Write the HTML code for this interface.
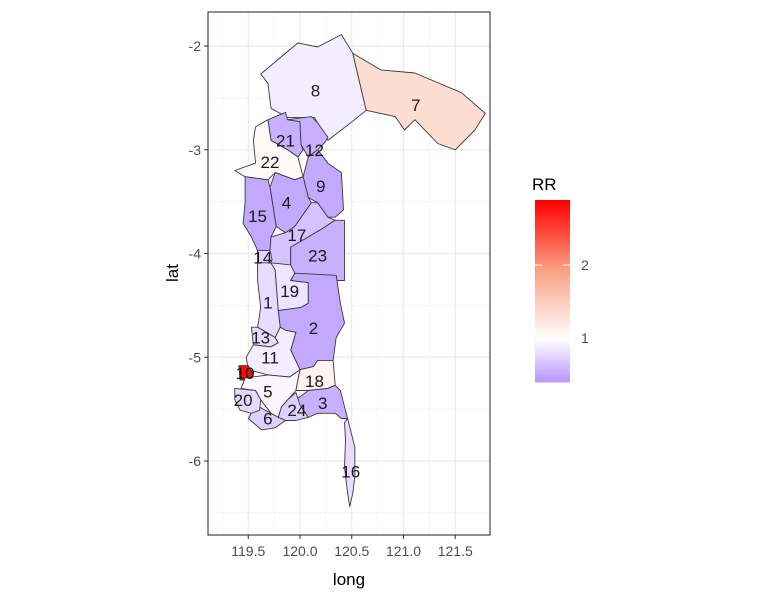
<!DOCTYPE html>
<html><head><meta charset="utf-8"><style>
body{margin:0;background:#fff;}
svg{display:block;font-family:"Liberation Sans",Arial,sans-serif;}
</style></head><body>
<svg id="chart" width="758" height="606" viewBox="0 0 758 606"></svg>
<script>
const regionIds=[8,7,21,12,22,9,4,15,17,23,14,1,19,2,13,11,10,5,18,3,24,6,20,16];
const rrValues={1:0.8,2:0.5,3:0.55,4:0.5,5:0.95,6:0.72,7:1.35,8:0.9,9:0.5,10:2.85,11:0.9,12:0.55,13:0.8,14:0.75,15:0.5,16:0.8,17:0.65,18:1.12,19:0.85,20:0.78,21:0.55,22:1.06,23:0.55,24:0.72};
const polygons={
8:[[119.62,-2.27],[119.98,-1.97],[120.17,-2.01],[120.40,-1.89],[120.51,-2.07],[120.64,-2.62],[120.49,-2.74],[120.27,-2.91],[120.14,-2.69],[119.88,-2.69],[119.72,-2.60],[119.69,-2.36]],
7:[[120.51,-2.07],[120.78,-2.23],[121.11,-2.26],[121.56,-2.45],[121.79,-2.65],[121.69,-2.81],[121.50,-3.00],[121.33,-2.94],[121.11,-2.71],[121.01,-2.81],[120.92,-2.68],[120.64,-2.62]],
21:[[119.69,-2.71],[119.86,-2.64],[119.88,-2.71],[120.00,-2.73],[120.01,-2.95],[120.03,-3.00],[119.98,-3.07],[119.88,-3.00],[119.72,-2.91]],
12:[[119.88,-2.71],[120.11,-2.68],[120.17,-2.74],[120.27,-2.88],[120.24,-2.93],[120.17,-3.00],[120.08,-3.07],[120.01,-2.95],[120.00,-2.73]],
22:[[119.57,-2.78],[119.69,-2.71],[119.72,-2.91],[119.88,-3.00],[119.98,-3.07],[120.03,-3.26],[119.95,-3.29],[119.76,-3.22],[119.69,-3.29],[119.47,-3.26],[119.37,-3.20],[119.57,-3.13],[119.55,-2.91]],
9:[[120.08,-3.07],[120.17,-3.00],[120.27,-3.13],[120.40,-3.22],[120.42,-3.58],[120.34,-3.65],[120.27,-3.65],[120.17,-3.51],[120.08,-3.46],[120.03,-3.26]],
4:[[119.76,-3.22],[119.95,-3.29],[120.03,-3.26],[120.08,-3.46],[120.11,-3.51],[119.95,-3.74],[119.86,-3.80],[119.77,-3.74],[119.71,-3.36]],
15:[[119.47,-3.26],[119.69,-3.29],[119.71,-3.36],[119.77,-3.74],[119.72,-3.84],[119.71,-3.97],[119.59,-3.97],[119.53,-3.84],[119.45,-3.71],[119.47,-3.51]],
17:[[120.11,-3.51],[120.17,-3.51],[120.27,-3.65],[120.34,-3.68],[120.20,-3.77],[120.08,-3.84],[119.91,-3.94],[119.91,-4.24],[119.76,-4.21],[119.71,-4.09],[119.71,-3.97],[119.72,-3.84],[119.86,-3.80],[119.95,-3.74]],
23:[[120.34,-3.68],[120.43,-3.68],[120.43,-4.26],[120.34,-4.26],[120.17,-4.26],[119.91,-4.23],[119.91,-3.94],[120.08,-3.84],[120.20,-3.77]],
14:[[119.59,-3.97],[119.71,-3.97],[119.73,-4.06],[119.69,-4.14],[119.59,-4.14]],
1:[[119.59,-4.09],[119.72,-4.09],[119.76,-4.16],[119.79,-4.55],[119.81,-4.71],[119.76,-4.81],[119.59,-4.71],[119.62,-4.52],[119.59,-4.26]],
19:[[119.72,-4.09],[119.91,-4.11],[119.95,-4.19],[119.91,-4.26],[120.08,-4.28],[120.08,-4.48],[120.01,-4.52],[119.79,-4.55],[119.76,-4.16]],
2:[[119.95,-4.19],[120.35,-4.21],[120.39,-4.48],[120.43,-4.67],[120.35,-4.81],[120.32,-5.03],[120.17,-5.03],[120.13,-5.09],[120.00,-5.12],[119.91,-4.93],[119.96,-4.76],[119.86,-4.74],[119.81,-4.71],[119.79,-4.55],[120.01,-4.52],[120.08,-4.48],[120.08,-4.28],[119.91,-4.26]],
13:[[119.53,-4.71],[119.59,-4.71],[119.76,-4.81],[119.79,-4.86],[119.72,-4.90],[119.55,-4.88]],
11:[[119.55,-4.88],[119.72,-4.90],[119.79,-4.86],[119.76,-4.81],[119.81,-4.71],[119.86,-4.74],[119.96,-4.76],[119.91,-4.93],[120.00,-5.12],[119.90,-5.19],[119.69,-5.17],[119.50,-5.12],[119.48,-5.00]],
10:[[119.41,-5.08],[119.50,-5.08],[119.55,-5.17],[119.50,-5.22],[119.42,-5.22]],
5:[[119.47,-5.20],[119.69,-5.17],[119.90,-5.19],[120.00,-5.12],[119.96,-5.32],[119.88,-5.41],[119.82,-5.48],[119.79,-5.58],[119.72,-5.54],[119.62,-5.41],[119.57,-5.32],[119.43,-5.30]],
18:[[120.00,-5.12],[120.13,-5.09],[120.17,-5.03],[120.32,-5.03],[120.34,-5.27],[120.27,-5.30],[120.08,-5.32],[119.96,-5.32]],
3:[[120.08,-5.32],[120.27,-5.30],[120.34,-5.27],[120.39,-5.32],[120.42,-5.44],[120.46,-5.59],[120.40,-5.59],[120.34,-5.54],[120.17,-5.54],[120.08,-5.58],[119.96,-5.58],[119.96,-5.41]],
24:[[119.88,-5.41],[119.96,-5.34],[120.00,-5.46],[120.08,-5.58],[119.96,-5.61],[119.86,-5.61],[119.79,-5.58],[119.82,-5.48]],
6:[[119.57,-5.46],[119.72,-5.54],[119.79,-5.58],[119.86,-5.61],[119.76,-5.68],[119.63,-5.70],[119.57,-5.65],[119.50,-5.59]],
20:[[119.37,-5.30],[119.57,-5.32],[119.62,-5.41],[119.61,-5.51],[119.53,-5.54],[119.42,-5.51],[119.37,-5.41]],
16:[[120.46,-5.59],[120.48,-5.67],[120.53,-5.87],[120.53,-6.15],[120.51,-6.31],[120.48,-6.44],[120.46,-6.31],[120.43,-6.06],[120.44,-5.80],[120.43,-5.63]]
};
const labelPos={8:[120.15,-2.43],7:[121.12,-2.57],21:[119.86,-2.91],12:[120.14,-3.00],22:[119.71,-3.12],9:[120.20,-3.35],4:[119.87,-3.51],15:[119.59,-3.64],17:[119.97,-3.82],23:[120.17,-4.02],14:[119.64,-4.04],19:[119.90,-4.36],1:[119.69,-4.47],2:[120.13,-4.72],13:[119.62,-4.81],11:[119.71,-5.00],10:[119.47,-5.15],18:[120.14,-5.23],5:[119.69,-5.33],20:[119.45,-5.41],24:[119.97,-5.51],3:[120.22,-5.44],6:[119.69,-5.59],16:[120.49,-6.10]};
const xTicks=[119.5,120.0,120.5,121.0,121.5];
const yTicks=[-2,-3,-4,-5,-6];
const legendTicks=[1,2];
const rrMin=0.4, rrMax=2.89;

const NS="http://www.w3.org/2000/svg";
const svg=document.getElementById('chart');
const P={l:208,r:490,t:12,b:535};
const x=lon=>300+(lon-120)*103.5;
const y=lat=>46+(-2-lat)*103.75;
function el(t,a,p){const e=document.createElementNS(NS,t);for(const k in a)e.setAttribute(k,a[k]);(p||svg).appendChild(e);return e;}
function mix(a,b,t){return a.map((v,i)=>Math.round(v+(b[i]-v)*t));}
function fill(v){
  if(v<=1){const t=Math.min(1,(1-v)/(1-rrMin));return 'rgb('+mix([255,255,255],[183,150,255],t).join(',')+')';}
  const t=Math.min(1,(v-1)/(rrMax-1));
  const c=t<0.5?mix([255,255,255],[250,160,130],t/0.5):mix([250,160,130],[255,0,0],(t-0.5)/0.5);
  return 'rgb('+c.join(',')+')';
}
const panel=el('rect',{x:P.l,y:P.t,width:P.r-P.l,height:P.b-P.t,fill:'#fff'});


for(let i=0;i<xTicks.length-1;i++){const gx=x((xTicks[i]+xTicks[i+1])/2);const g=el('line',{x1:gx,x2:gx,y1:P.t,y2:P.b,stroke:'#f2f2f2','stroke-width':0.8});}
for(let i=0;i<yTicks.length-1;i++){const gy=y((yTicks[i]+yTicks[i+1])/2);const g=el('line',{x1:P.l,x2:P.r,y1:gy,y2:gy,stroke:'#f2f2f2','stroke-width':0.8});}
[x(119.25)].forEach(gx=>{const g=el('line',{x1:gx,x2:gx,y1:P.t,y2:P.b,stroke:'#f2f2f2','stroke-width':0.8});});
[y(-1.5),y(-6.5)].forEach(gy=>{const g=el('line',{x1:P.l,x2:P.r,y1:gy,y2:gy,stroke:'#f2f2f2','stroke-width':0.8});});
xTicks.forEach(v=>{const g=el('line',{x1:x(v),x2:x(v),y1:P.t,y2:P.b,stroke:'#ebebeb','stroke-width':1.3});
 const tk=el('line',{x1:x(v),x2:x(v),y1:P.b,y2:P.b+4,stroke:'#333'});
 const t=el('text',{x:x(v),y:P.b+21,'text-anchor':'middle','font-size':14,fill:'#4d4d4d'});t.textContent=v.toFixed(1);});
yTicks.forEach(v=>{const g=el('line',{x1:P.l,x2:P.r,y1:y(v),y2:y(v),stroke:'#ebebeb','stroke-width':1.3});
 const tk=el('line',{x1:P.l-4,x2:P.l,y1:y(v),y2:y(v),stroke:'#333'});
 const t=el('text',{x:P.l-7,y:y(v)+5,'text-anchor':'end','font-size':14,fill:'#4d4d4d'});t.textContent=String(v);});
regionIds.forEach(id=>{
  const pts=polygons[id].map(p=>x(p[0]).toFixed(1)+','+y(p[1]).toFixed(1)).join(' ');
  const pg=el('polygon',{points:pts,fill:fill(rrValues[id]),stroke:'#3a3a3a','stroke-width':0.9,'stroke-linejoin':'round'});
  
  
});
regionIds.forEach(id=>{
  const t=el('text',{x:x(labelPos[id][0]),y:y(labelPos[id][1])+6,'text-anchor':'middle','font-size':17,fill:'#1a1a1a'});
  t.textContent=String(id);
  
  
});
const border=el('rect',{x:P.l,y:P.t,width:P.r-P.l,height:P.b-P.t,fill:'none',stroke:'#333','stroke-width':1.1});


const xt=el('text',{x:349,y:585,'text-anchor':'middle','font-size':17,fill:'#000'});xt.textContent='long';


const yt=el('text',{x:178,y:273,'text-anchor':'middle','font-size':17,fill:'#000',transform:'rotate(-90 178 273)'});yt.textContent='lat';


const L={x:535,w:35,t:200,b:382};
const ly=v=>L.b-(v-rrMin)/(rrMax-rrMin)*(L.b-L.t);
const lt=el('text',{x:532,y:190,'font-size':17,fill:'#000'});lt.textContent='RR';


const lg=el('g',{});


for(let i=0;i<91;i++){const v0=rrMin+(rrMax-rrMin)*i/91,v1=rrMin+(rrMax-rrMin)*(i+1)/91;
 el('rect',{x:L.x,y:ly(v1),width:L.w,height:ly(v0)-ly(v1)+0.5,fill:fill((v0+v1)/2)},lg);}
legendTicks.forEach(v=>{
 el('line',{x1:L.x,x2:L.x+7,y1:ly(v),y2:ly(v),stroke:'#fff'},lg);
 el('line',{x1:L.x+L.w-7,x2:L.x+L.w,y1:ly(v),y2:ly(v),stroke:'#fff'},lg);
 const t=el('text',{x:L.x+L.w+11,y:ly(v)+5,'font-size':14,fill:'#4d4d4d'});t.textContent=String(v);
 
 
});
</script>
</body></html>
